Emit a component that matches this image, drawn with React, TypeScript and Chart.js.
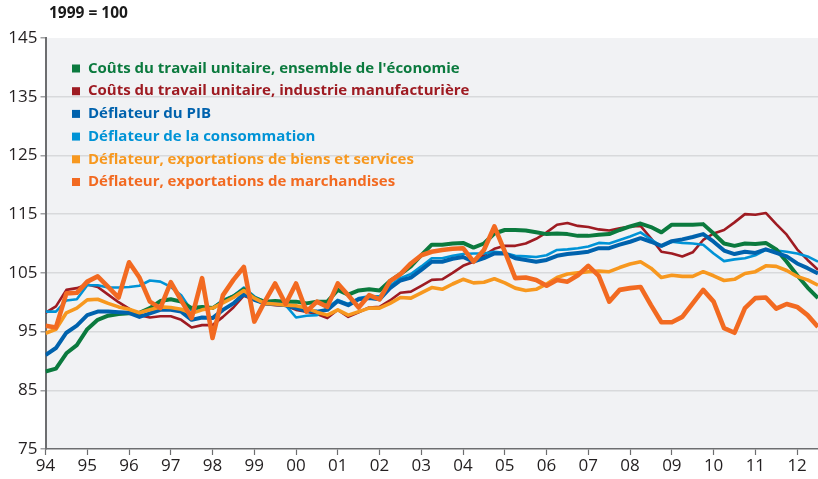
import React, { useEffect, useRef } from 'react';
import { Chart, registerables } from 'chart.js';

Chart.register(...registerables);

// ---- data (quarterly, 1994 Q1 .. 2012 Q3), index 1999 = 100 ----
const START_YEAR = 1994;
const years = [1994, 1995, 1996, 1997, 1998, 1999, 2000, 2001, 2002, 2003, 2004, 2005, 2006, 2007, 2008, 2009, 2010, 2011, 2012];
const yTicks = [75, 85, 95, 105, 115, 125, 135, 145];

const ensemble = [
  88.2, 88.7, 91.3, 92.7, 95.4, 97.0, 97.7, 98.0, 98.1, 98.2, 99.0, 100.2, 100.5, 100.1, 99.0, 99.2, 99.0, 100.1, 101.0, 102.2, 100.7, 100.1, 100.2, 100.1, 100.1, 99.8, 100.1,
  100.1, 102.1, 101.3, 102.0, 102.2, 102.0, 103.6, 104.8, 106.1, 108.0, 109.8, 109.8, 110.0,
  110.1, 109.3, 110.0, 111.7, 112.3, 112.3, 112.2, 111.9, 111.6, 111.7, 111.6, 111.3, 111.3, 111.5,
  111.6, 112.3, 112.9, 113.4, 112.8, 111.9, 113.2, 113.2, 113.2, 113.3, 111.7, 110.0, 109.6, 110.0, 109.9, 110.1, 109.0, 106.9, 104.6, 102.5, 100.7,
];
const industrie = [
  98.2, 99.3, 102.1, 102.4, 103.0, 102.6, 101.3, 100.0, 98.9, 97.8, 97.4, 97.6, 97.6, 97.0, 95.7, 96.1, 96.1, 97.5, 99.1, 101.1,
  100.4, 99.7, 99.5, 99.4, 98.7, 98.4, 98.0, 97.3, 98.7, 97.5, 98.3, 99.1, 99.2, 100.3, 101.6, 101.8, 102.8, 103.8, 103.9, 105.0,
  106.2, 106.9, 108.0, 109.1, 109.6, 109.6, 110.0, 110.8, 111.9, 113.2, 113.5, 113.0, 112.8, 112.4, 112.2, 112.6, 112.9, 113.0, 110.9, 108.6,
  108.3, 107.8, 108.5, 110.6, 111.7, 112.3, 113.6, 115.0, 114.9, 115.2, 113.3, 111.5, 109.0, 107.2, 105.5,
];
const pib = [
  91.0, 92.2, 94.8, 96.0, 97.8, 98.4, 98.4, 98.3, 98.2, 97.5, 98.1, 98.7, 98.7, 98.4, 97.0, 97.4, 97.3, 98.7, 99.8, 101.4, 100.4, 99.8, 99.7, 99.5, 99.0, 98.5, 98.4,
  98.7, 100.2, 99.5, 100.5, 100.7, 100.5, 102.4, 103.7, 104.2, 105.5, 106.9, 106.9, 107.4,
  107.7, 106.9, 107.5, 108.3, 108.3, 107.5, 107.2, 106.9, 107.2, 107.9, 108.2, 108.4, 108.6, 109.2,
  109.2, 109.8, 110.3, 110.9, 110.3, 109.6, 110.4, 110.7, 111.1, 111.6, 110.3, 108.8, 108.2, 108.6, 108.4, 109.0, 108.4, 107.8, 106.6, 105.8, 104.9,
];
const consommation = [
  98.4, 98.4, 100.3, 100.5, 102.9, 102.9, 102.5, 102.5, 102.6, 102.8, 103.7, 103.5, 102.6, 101.2, 98.5, 99.2, 99.0, 100.4, 101.1, 102.5, 101.0, 100.1, 100.0, 99.5, 97.4, 97.7, 97.8,
  99.0, 100.4, 99.7, 100.7, 101.0, 101.0, 102.8, 104.1, 104.8, 106.1, 107.5, 107.5, 107.9,
  108.2, 108.3, 108.3, 108.6, 108.4, 107.9, 107.8, 107.7, 108.0, 108.9, 109.0, 109.2, 109.5, 110.1,
  110.0, 110.6, 111.2, 111.9, 110.7, 109.5, 110.3, 110.1, 110.0, 109.8, 108.3, 107.0, 107.3, 107.5, 108.0, 108.9, 108.8, 108.6, 108.3, 107.8, 106.9,
];
const biensServices = [
  94.7, 95.4, 98.2, 99.0, 100.4, 100.5, 99.8, 99.2, 98.8, 98.2, 98.7, 99.2, 99.1, 98.8, 98.1, 98.7, 99.0, 99.9, 100.8, 102.0, 100.7, 99.8, 99.7, 99.5, 99.4, 99.0, 98.3,
  97.8, 98.7, 97.8, 98.4, 99.0, 99.0, 99.8, 100.8, 100.7, 101.6, 102.5, 102.2, 103.1,
  103.9, 103.3, 103.4, 104.0, 103.3, 102.4, 102.0, 102.2, 103.1, 104.2, 104.8, 105.0, 105.2, 105.3,
  105.2, 105.9, 106.5, 106.9, 105.8, 104.2, 104.6, 104.4, 104.4, 105.2, 104.5, 103.7, 103.9, 104.9, 105.2, 106.2, 106.1, 105.4, 104.4, 103.8, 102.9,
];
const marchandises = [
  96.0, 95.7, 101.5, 101.6, 103.5, 104.4, 102.6, 100.8, 106.8, 104.2, 100.1, 99.0, 103.4, 100.3, 97.3, 104.1, 93.9, 101.2, 103.8, 106.0, 96.7, 100.1, 103.2, 99.7, 103.2, 98.4, 100.1, 99.2,
  103.2, 101.2, 99.1, 101.2, 100.5, 103.6, 104.8, 106.6, 108.0, 108.6, 108.9, 109.1, 109.2, 106.9, 108.9, 112.9, 108.6, 104.1, 104.2, 103.8, 102.8, 103.8, 103.5, 104.6, 106.2, 104.5,
  100.1, 102.1, 102.4, 102.6, 99.5, 96.6, 96.6, 97.5, 99.8, 102.1, 100.1, 95.6, 94.8, 99.0, 100.7, 100.8, 98.9, 99.7, 99.2, 97.8, 95.8,
];

const seriesLabels = [
  "Coûts du travail unitaire, ensemble de l'économie",
  'Coûts du travail unitaire, industrie manufacturière',
  'Déflateur du PIB',
  'Déflateur de la consommation',
  'Déflateur, exportations de biens et services',
  'Déflateur, exportations de marchandises',
];
const seriesColors = ['#0b7a3e', '#9e1b22', '#0062ad', '#0093d6', '#f7981f', '#f26a21'];
const seriesValues = [ensemble, industrie, pib, consommation, biensServices, marchandises];
const seriesWidths = [4, 2.6, 4, 2.6, 3.6, 4.6];
const seriesOrder = [3, 5, 2, 4, 1, 0];

const TITLE = '1999 = 100';

const bgPlugin = {
  id: 'plotBg',
  beforeDraw(chart: any) {
    const { ctx, chartArea } = chart;
    ctx.save();
    ctx.fillStyle = '#f1f2f4';
    ctx.fillRect(chartArea.left, chartArea.top, chartArea.right - chartArea.left, chartArea.bottom - chartArea.top);
    ctx.restore();
  },
};

const legendPlugin = {
  id: 'insideLegend',
  afterDraw(chart: any) {
    const { ctx, chartArea } = chart;
    ctx.save();
    ctx.textBaseline = 'middle';
    ctx.textAlign = 'left';
    ctx.font = 'bold 15px "Open Sans"';
    seriesLabels.forEach((label, k) => {
      const y = chartArea.top + 30.5 + k * 22.7;
      ctx.fillStyle = seriesColors[k];
      ctx.fillRect(chartArea.left + 26.5, y - 4, 8, 8);
      ctx.fillText(label, chartArea.left + 42.5, y);
    });
    ctx.fillStyle = '#1a1a1a';
    ctx.font = 'bold 15.5px "Open Sans"';
    ctx.fillText(TITLE, 49, 14);
    ctx.restore();
  },
};

export default function App() {
  const canvasRef = useRef<HTMLCanvasElement | null>(null);

  useEffect(() => {
    const canvas = canvasRef.current;
    if (!canvas) return;
    const datasets = seriesValues.map((vals, k) => ({
      label: seriesLabels[k],
      data: vals.map((v, i) => ({ x: START_YEAR + i / 4, y: v })),
      borderColor: seriesColors[k],
      backgroundColor: seriesColors[k],
      borderWidth: seriesWidths[k],
      pointRadius: 0,
      tension: 0,
      borderJoinStyle: 'round' as const,
      order: seriesOrder[k],
    }));
    const chart = new Chart(canvas, {
      type: 'line',
      data: { datasets },
      plugins: [bgPlugin, legendPlugin],
      options: {
        animation: false,
        responsive: false,
        maintainAspectRatio: false,
        layout: { padding: { top: 38, right: 0, left: 0, bottom: 0 } },
        plugins: { legend: { display: false }, tooltip: { enabled: false }, title: { display: false } },
        scales: {
          x: {
            type: 'linear',
            min: START_YEAR,
            max: 2012.5,
            afterBuildTicks: (s: any) => {
              s.ticks = years.map((v) => ({ value: v }));
            },
            afterFit: (s: any) => {
              s.height = 30;
            },
            ticks: {
              autoSkip: false,
              maxRotation: 0,
              padding: 1,
              color: '#231f20',
              font: { family: 'Open Sans', size: 17 },
              callback: (v: any) => String(v).slice(2),
            },
            grid: { drawOnChartArea: false, drawTicks: true, tickLength: 6, tickColor: '#6d6e70', tickWidth: 1.2 },
            border: { display: true, color: '#6d6e70', width: 1.5 },
          },
          y: {
            min: 75,
            max: 145,
            afterBuildTicks: (s: any) => {
              s.ticks = yTicks.map((v) => ({ value: v }));
            },
            afterFit: (s: any) => {
              s.width = 45.5;
            },
            ticks: {
              padding: 3,
              color: '#231f20',
              font: { family: 'Open Sans', size: 17 },
            },
            grid: {
              color: (c: any) => (c.tick && (c.tick.value === 75 || c.tick.value === 145) ? 'rgba(0,0,0,0)' : '#d8d9db'),
              lineWidth: 1.5,
              drawTicks: true,
              tickLength: 5,
              tickColor: '#a0a1a3',
            },
            border: { display: true, color: '#6d6e70', width: 2 },
          },
        },
      },
    });
    return () => chart.destroy();
  }, []);

  return (
    <div style={{ position: 'fixed', left: 0, top: 0, width: 818, height: 479, background: '#fff' }}>
      <canvas ref={canvasRef} width={818} height={479} style={{ display: 'block' }} />
    </div>
  );
}
